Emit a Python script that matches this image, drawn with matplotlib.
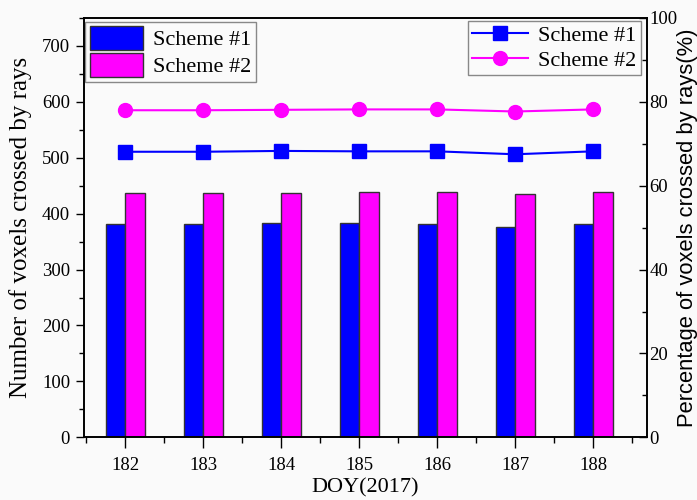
import numpy as np
import matplotlib
matplotlib.use('Agg')
import matplotlib.pyplot as plt
from matplotlib.ticker import MultipleLocator

# data
doy = [182, 183, 184, 185, 186, 187, 188]
voxels_s1 = [381, 381, 383, 383, 381, 377, 381]
voxels_s2 = [437, 437, 437, 438, 438, 435, 438]
pct_s1 = [68.1, 68.1, 68.3, 68.2, 68.2, 67.5, 68.2]
pct_s2 = [78.0, 78.0, 78.1, 78.2, 78.2, 77.7, 78.2]

serif = 'Liberation Serif'
bg = '#fafafa'

fig = plt.figure(figsize=(6.97, 5.0), dpi=100, facecolor=bg)
ax1 = fig.add_axes([0.1205, 0.1254, 0.8075, 0.8386], facecolor=bg)
ax2 = ax1.twinx()

x = np.array(doy)
w = 0.25
b1 = ax1.bar(x - w / 2, voxels_s1, w, color='#0000ff', edgecolor='#333333', linewidth=1, label='Scheme #1')
b2 = ax1.bar(x + w / 2, voxels_s2, w, color='#ff00ff', edgecolor='#333333', linewidth=1, label='Scheme #2')

l1, = ax2.plot(x, pct_s1, color='#0000ff', marker='s', markersize=9.5, linewidth=1.5, label='Scheme #1')
l2, = ax2.plot(x, pct_s2, color='#ff00ff', marker='o', markersize=10, linewidth=1.5, label='Scheme #2')

ax1.set_xlim(181.47, 188.69)
ax1.set_ylim(0, 750)
ax2.set_ylim(0, 100)
ax1.set_xticks(doy)
ax1.xaxis.set_minor_locator(MultipleLocator(0.5))
ax1.yaxis.set_major_locator(MultipleLocator(100))
ax1.yaxis.set_minor_locator(MultipleLocator(50))
ax2.yaxis.set_major_locator(MultipleLocator(20))
ax2.yaxis.set_minor_locator(MultipleLocator(10))

ax1.tick_params(axis='x', which='major', direction='out', length=8, width=1, labelsize=13.5, pad=6)
ax1.tick_params(axis='x', which='minor', direction='out', length=4, width=1)
ax1.tick_params(axis='y', which='major', direction='out', length=6, width=1, labelsize=13.5, pad=4)
ax1.tick_params(axis='y', which='minor', direction='out', length=3.5, width=1)
ax2.tick_params(axis='y', which='major', direction='in', length=6, width=1, labelsize=13.5, pad=2)
ax2.tick_params(axis='y', which='minor', direction='in', length=3.5, width=1)
for lab in ax1.get_xticklabels() + ax1.get_yticklabels() + ax2.get_yticklabels():
    lab.set_fontfamily(serif)

for sp in ax1.spines.values():
    sp.set_linewidth(1.2)
for sp in ax2.spines.values():
    sp.set_linewidth(1.2)

ax1.set_xlabel('DOY(2017)', fontfamily=serif, fontsize=16)
ax1.xaxis.set_label_coords(0.5, -0.098)
ax1.set_ylabel('Number of voxels crossed by rays', fontfamily=serif, fontsize=18)
ax1.yaxis.set_label_coords(-0.092, 0.5)
ax2.set_ylabel('Percentage of voxels crossed by rays(%)', fontfamily='Liberation Sans', fontsize=15.8)
ax2.yaxis.set_label_coords(1.053, 0.5)

leg1 = ax1.legend(handles=[b1, b2], loc='upper left', bbox_to_anchor=(0.002, 0.991),
                  prop={'family': serif, 'size': 16}, fancybox=False, edgecolor='#888888',
                  handlelength=2.4, handleheight=1.25, handletextpad=0.45, borderpad=0.2,
                  labelspacing=0.12, borderaxespad=0.0, framealpha=1, facecolor=bg)
leg2 = ax2.legend(handles=[l1, l2], loc='upper right', bbox_to_anchor=(0.989, 0.993),
                  prop={'family': serif, 'size': 16}, fancybox=False, edgecolor='#888888',
                  handlelength=2.5, handletextpad=0.45, borderpad=0.2,
                  labelspacing=0.2, borderaxespad=0.0, framealpha=1, facecolor=bg)

fig.savefig('out.png', dpi=100, facecolor=bg)
